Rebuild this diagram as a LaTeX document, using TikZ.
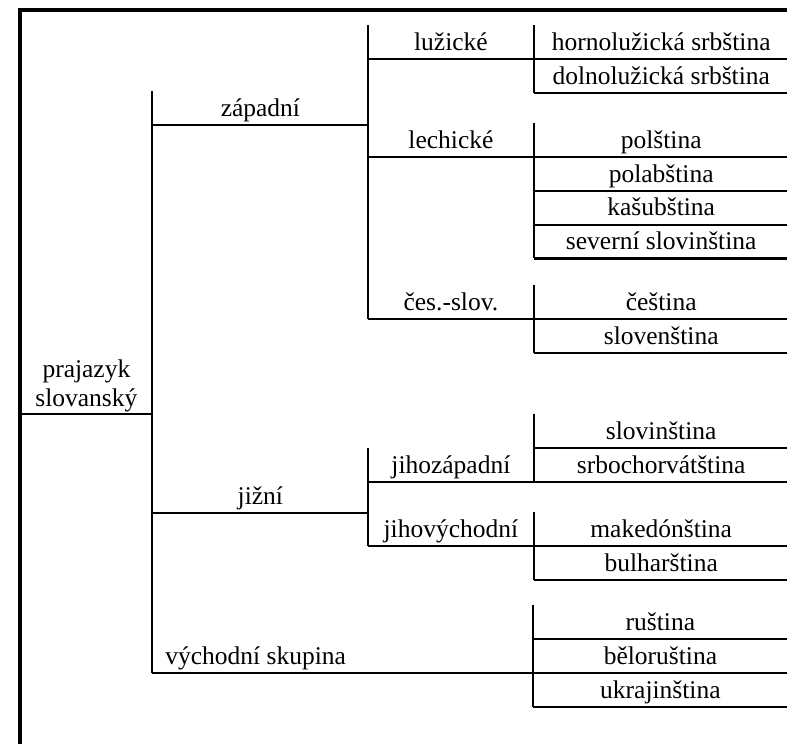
\documentclass[tikz,border=0pt]{standalone}
\usepackage{fontspec}
\setmainfont{Liberation Serif}
\usetikzlibrary{positioning}

\begin{document}
\begin{tikzpicture}[x=0.5pt,y=-0.5pt,
      every node/.style={font=\fontsize{12.75}{14.5}\selectfont,inner sep=0pt},
      lbl/.style={text height=2ex,text depth=.2ex,minimum height=16.5pt},
      branch/.style={lbl,minimum width=108pt,anchor=south west},
      grp/.style={lbl,minimum width=82.5pt,anchor=south west},
      leaf/.style={lbl,minimum width=127pt},
      wire/.style={line width=1.1pt},
      outline/.style={line width=1.6pt}]
      \useasboundingbox (0,0) rectangle (787,744);
      \draw[outline] (20,744) -- (20,10) -- (787,10);
      \node[anchor=south west,minimum width=66pt,align=center,inner ysep=1pt] (root) at (20,414) {prajazyk\\slovanský};
      \node[branch] (zap) at (152,125) {západní};
      \node[branch] (jiz) at (152,513) {jižní};
      \node[lbl,anchor=south west,inner xsep=6.5pt] (vych) at (152,673) {východní skupina};
      \node[grp] (luz) at (368,59) {lužické};
      \node[grp] (lech) at (368,157) {lechické};
      \node[grp] (cs) at (368,319) {čes.-slov.};
      \node[grp] (jz) at (368,482) {jihozápadní};
      \node[grp] (jv) at (368,546) {jihovýchodní};
      \node[leaf,anchor=south west] (hls) at (luz.south east) {hornolužická srbština};
      \node[leaf,below=0pt of hls] (dls) {dolnolužická srbština};
      \node[leaf,anchor=south west] (pol) at (lech.south east) {polština};
      \node[leaf,below=0pt of pol] (plb) {polabština};
      \node[leaf,below=0pt of plb] (kas) {kašubština};
      \node[leaf,below=0pt of kas] (sev) {severní slovinština};
      \node[leaf,anchor=south west] (ces) at (cs.south east) {čeština};
      \node[leaf,below=0pt of ces] (slk) {slovenština};
      \node[leaf,anchor=south west] (srb) at (jz.south east) {srbochorvátština};
      \node[leaf,above=0pt of srb] (sln) {slovinština};
      \node[leaf,anchor=south west] (mak) at (jv.south east) {makedónština};
      \node[leaf,below=0pt of mak] (bul) {bulharština};
      \node[leaf,anchor=south west] (bel) at (533,673) {běloruština};
      \node[leaf,above=0pt of bel] (rus) {ruština};
      \node[leaf,below=0pt of bel] (ukr) {ukrajinština};
      \foreach \n in {root,zap,jiz,luz,lech,cs,jz,jv,hls,dls,pol,plb,kas,sev,ces,slk,sln,srb,mak,bul,rus,bel,ukr}
        \draw[wire] (\n.south west) -- (\n.south east);
      \draw[wire] (vych.south west) -- (bel.south west);
      \draw[wire] (zap.north west) -- (vych.south west);
      \draw[wire] (luz.north west) -- (cs.south west);
      \draw[wire] (jz.north west) -- (jv.south west);
      \draw[wire] (hls.north west) -- (dls.south west);
      \draw[wire] (pol.north west) -- (sev.south west);
      \draw[wire] (ces.north west) -- (slk.south west);
      \draw[wire] (sln.north west) -- (srb.south west);
      \draw[wire] (mak.north west) -- (bul.south west);
      \draw[wire] (rus.north west) -- (ukr.south west);
    \end{tikzpicture}
\end{document}
